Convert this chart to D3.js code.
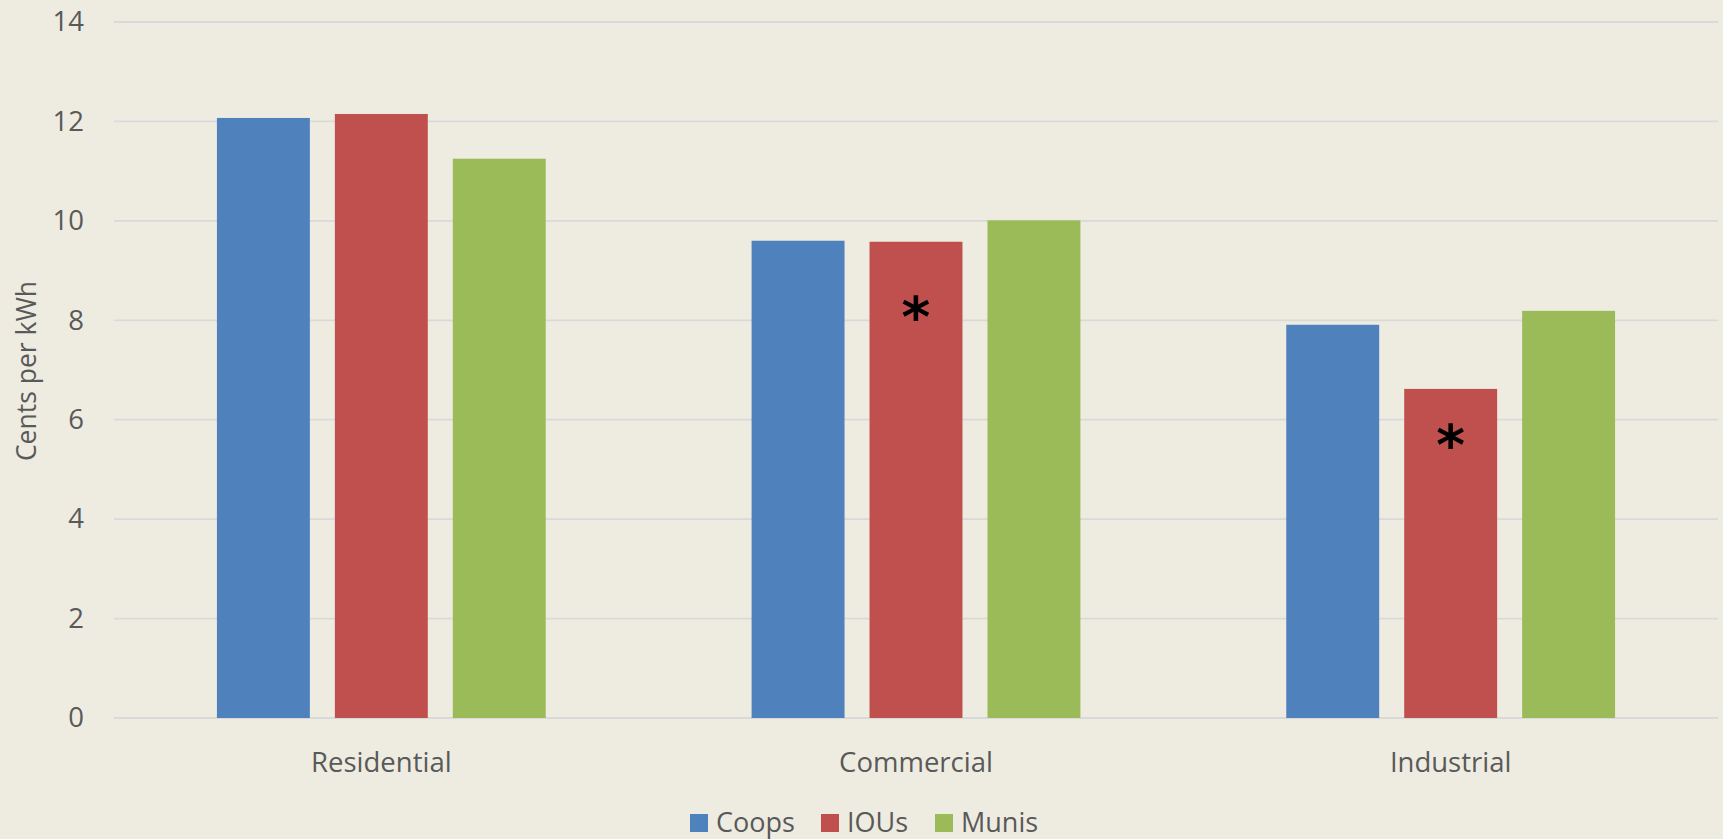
<!DOCTYPE html>
<html>
<head>
<meta charset="utf-8">
<script src="https://cdn.jsdelivr.net/npm/d3@7"></script>
<style>
  html, body { margin: 0; padding: 0; background: #EEECE1; }
  #chart { width: 1723px; height: 839px; }
  text { font-family: "Open Sans", sans-serif; fill: #595959; }
</style>
</head>
<body>
<div id="chart"></div>
<script>
const categories = ["Residential", "Commercial", "Industrial"];
const seriesNames = ["Coops", "IOUs", "Munis"];
const coops = [12.07, 9.60, 7.91];
const ious = [12.15, 9.58, 6.62];
const munis = [11.25, 10.01, 8.19];
const yTicks = [0, 2, 4, 6, 8, 10, 12, 14];
const colors = ["#4F81BD", "#C0504D", "#9BBB59"];
// asterisk notes: category, series, height (in cents) where the mark sits
const notes = [
  { cat: "Commercial", series: "IOUs", at: 8.2 },
  { cat: "Industrial", series: "IOUs", at: 5.64 }
];

const values = [coops, ious, munis];
const rows = categories.map((c, i) => ({
  cat: c,
  vals: seriesNames.map((s, j) => ({ series: s, value: values[j][i], color: colors[j] }))
}));

const width = 1723, height = 839;
const margin = { top: 22, right: 5, bottom: 121, left: 114 };
const innerW = width - margin.left - margin.right;
const innerH = height - margin.top - margin.bottom;

const svg = d3.select("#chart").append("svg").attr("width", width).attr("height", height);
const g = svg.append("g").attr("transform", `translate(${margin.left},${margin.top})`);

const x0 = d3.scaleBand().domain(categories).range([0, innerW]).padding(0);
const groupW = x0.bandwidth() * 0.615;
const x1 = d3.scaleBand().domain(seriesNames).range([0, groupW]).paddingInner(0.212).paddingOuter(0);
const y = d3.scaleLinear().domain([0, 14]).range([innerH, 0]);

// gridlines
g.append("g")
  .selectAll("line")
  .data(yTicks)
  .enter()
  .append("line")
  .attr("x1", 0)
  .attr("x2", innerW)
  .attr("y1", d => y(d))
  .attr("y2", d => y(d))
  .attr("stroke", "#D9D9D9")
  .attr("stroke-width", 1.8);

// y tick labels
const yAxis = g.append("g").call(d3.axisLeft(y).tickValues(yTicks).tickSize(0).tickPadding(30));
yAxis.select(".domain").remove();
yAxis.selectAll("text").style("font-family", "Open Sans").style("font-size", "27.5px").attr("fill", "#595959");

// bars
const groups = g.selectAll(".grp")
  .data(rows)
  .enter()
  .append("g")
  .attr("class", "grp")
  .attr("transform", d => `translate(${x0(d.cat) + (x0.bandwidth() - groupW) / 2},0)`);

groups.selectAll("rect")
  .data(d => d.vals)
  .enter()
  .append("rect")
  .attr("x", d => x1(d.series))
  .attr("y", d => y(d.value))
  .attr("width", x1.bandwidth())
  .attr("height", d => innerH - y(d.value))
  .attr("fill", d => d.color);

// x category labels
const xAxis = g.append("g")
  .attr("transform", `translate(0,${innerH})`)
  .call(d3.axisBottom(x0).tickSize(0).tickPadding(34));
xAxis.select(".domain").remove();
xAxis.selectAll("text").style("font-family", "Open Sans").style("font-size", "27.5px").attr("fill", "#595959");

// asterisks
g.selectAll(".note")
  .data(notes)
  .enter()
  .append("text")
  .attr("class", "note")
  .attr("x", d => x0(d.cat) + (x0.bandwidth() - groupW) / 2 + x1(d.series) + x1.bandwidth() / 2)
  .attr("y", d => y(d.at) + 26)
  .attr("text-anchor", "middle")
  .style("font-family", "DejaVu Sans")
  .style("font-weight", "bold")
  .style("font-size", "55px")
  .style("fill", "#000");

g.selectAll(".note").text("*");

// y axis title
svg.append("text")
  .attr("transform", `translate(36,371) rotate(-90)`)
  .attr("text-anchor", "middle")
  .style("font-size", "26.5px")
  .text("Cents per kWh");

// legend
const legend = svg.append("g").attr("transform", "translate(690,814)");
const legendX = [0, 131, 245];
const item = legend.selectAll(".leg")
  .data(seriesNames)
  .enter()
  .append("g")
  .attr("class", "leg")
  .attr("transform", (d, i) => `translate(${legendX[i]},0)`);
item.append("rect").attr("width", 18).attr("height", 18).attr("fill", (d, i) => colors[i]);
item.append("text").attr("x", 26).attr("y", 18).style("font-size", "27px").text(d => d);
</script>
</body>
</html>
